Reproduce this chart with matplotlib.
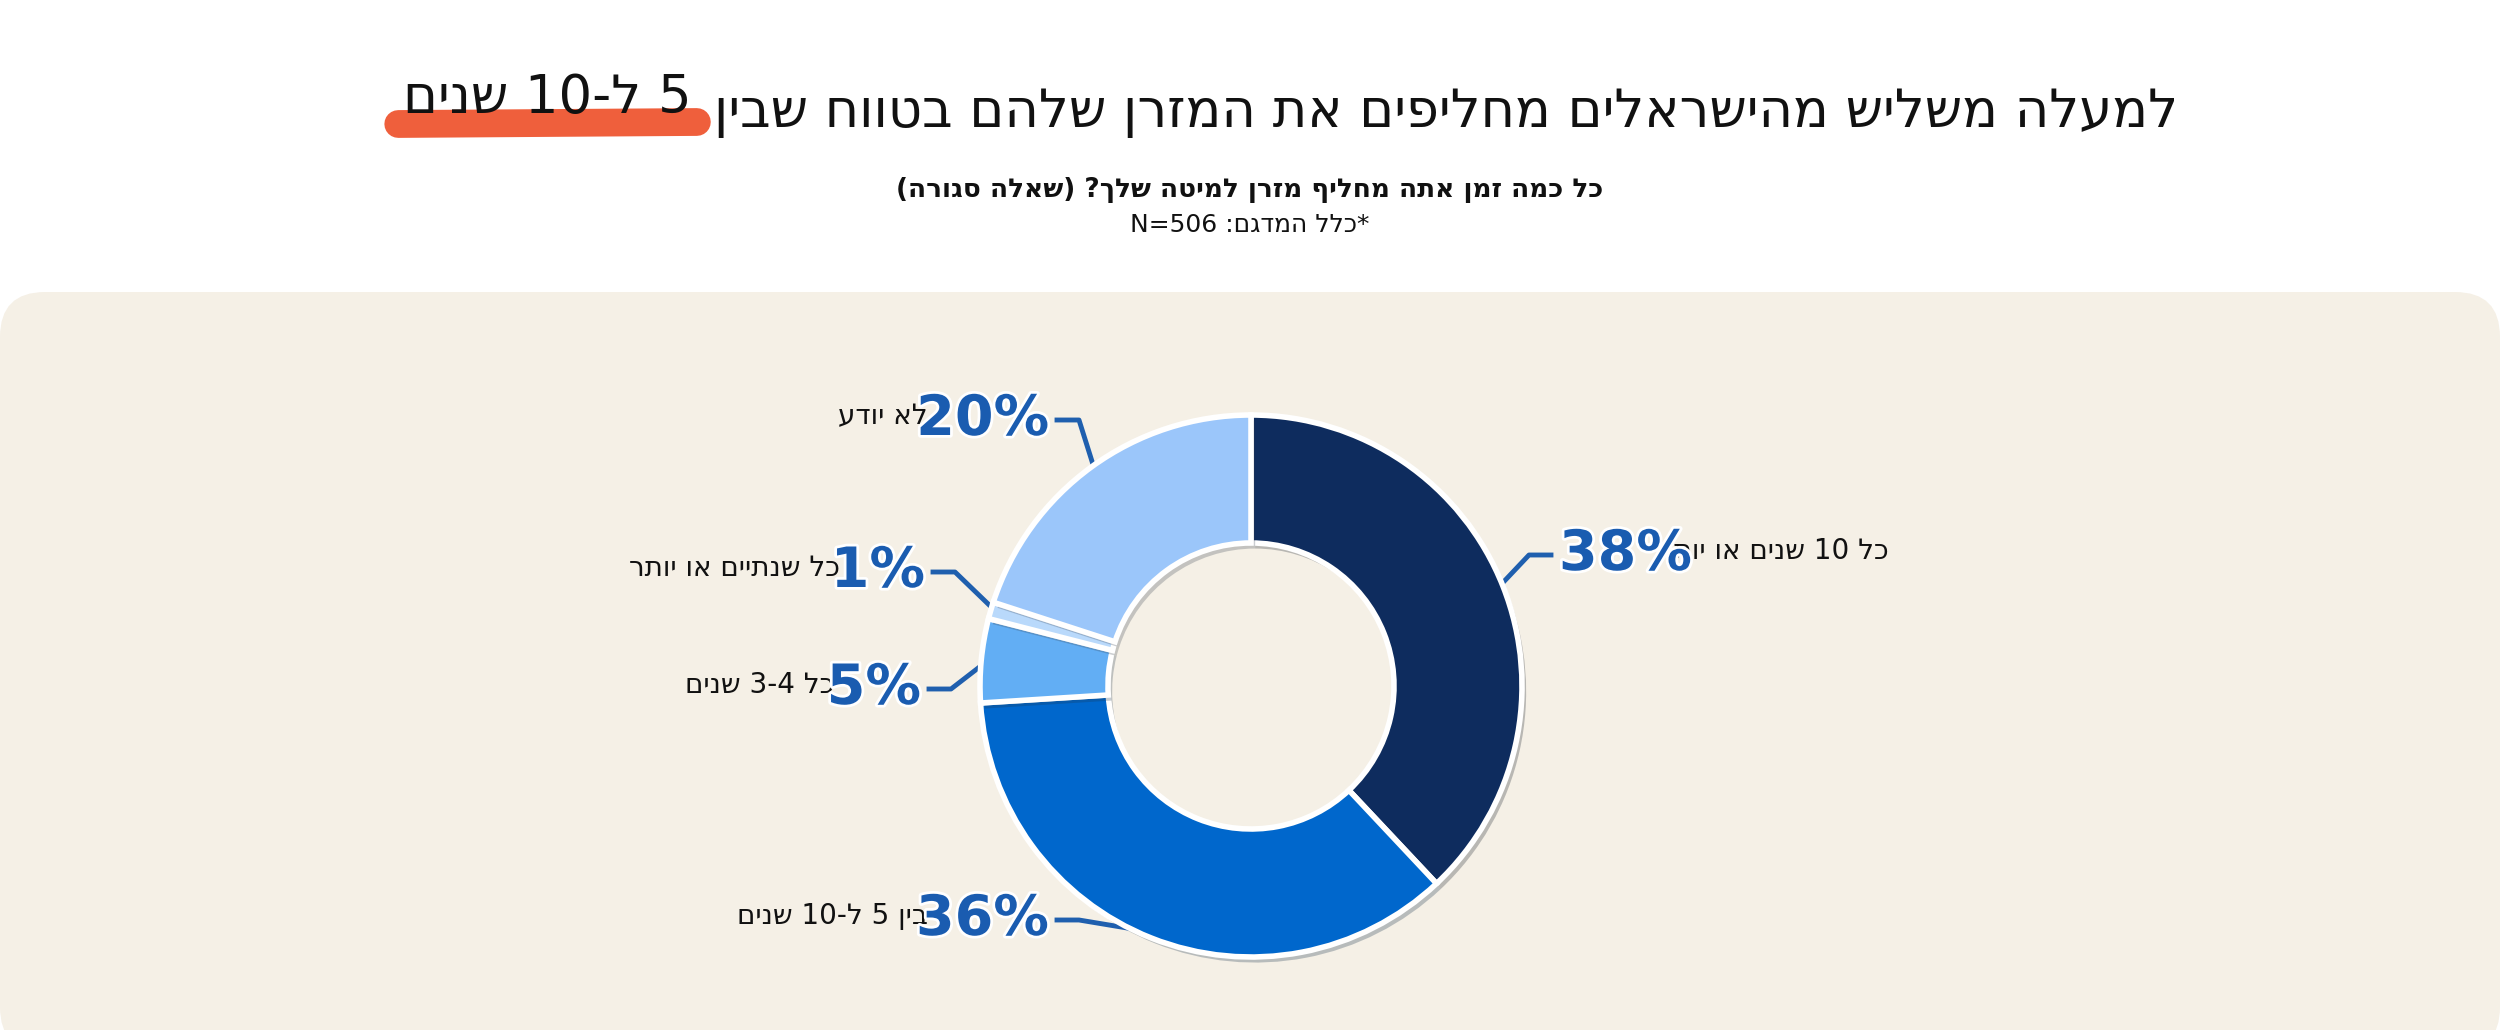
import re
import numpy as np
import matplotlib
matplotlib.use("Agg")
import matplotlib.pyplot as plt
from matplotlib.patches import FancyBboxPatch
import matplotlib.patheffects as pe

# data
labels = ["כל 10 שנים או יותר", "בין 5 ל-10 שנים", "כל 3-4 שנים", "כל שנתיים או יותר", "לא יודע"]
values = [38, 36, 5, 1, 20]
colors = ["#0e2c5e", "#0067cc", "#62aef4", "#b9d9fb", "#9bc6fa"]
title_main = "למעלה משליש מהישראלים מחליפים את המזרן שלהם בטווח שבין"
title_hl = "5 ל-10 שנים"
subtitle = "כל כמה זמן אתה מחליף מזרן למיטה שלך? (שאלה סגורה)"
note = "*כלל המדגם: N=506"

HEB = re.compile("[\u0590-\u05FF]")
MIRROR = {"(": ")", ")": "("}


def vis(s):
    # crude RTL -> visual order
    out = []
    for tok in s.split(" ")[::-1]:
        if HEB.search(tok) or any(c in tok for c in "()?*:"):
            r = tok[::-1]
            r = re.sub(r"[0-9]+", lambda m: m.group(0)[::-1], r)
            r = "".join(MIRROR.get(c, c) for c in r)
            out.append(r)
        else:
            out.append(tok)
    return " ".join(out)


W, H = 2500, 1030
fig = plt.figure(figsize=(25, 10.3), dpi=100)
ax = fig.add_axes([0, 0, 1, 1])
ax.set_xlim(0, W)
ax.set_ylim(H, 0)
ax.axis("off")

ax.add_patch(FancyBboxPatch((0, 292), W, 760, boxstyle="round,pad=0,rounding_size=45",
                            fc="#f5f0e6", ec="none", zorder=0))

# title
tx = 2178
t1 = ax.text(tx, 112, vis(title_main), ha="right", va="center", fontsize=38, color="#111111")
fig.canvas.draw()
r = fig.canvas.get_renderer()
bb = t1.get_window_extent(r)
hl_right = bb.x0 - 22
t2 = ax.text(hl_right, 98, vis(title_hl), ha="right", va="center", fontsize=38, color="#111111", zorder=3)
bb2 = t2.get_window_extent(r)
ax.plot([bb2.x0 - 5, bb2.x1 + 5], [124, 122], color="#ef5f3c", lw=20, solid_capstyle="round", zorder=2)

ax.text(1250, 190, vis(subtitle), ha="center", va="center", fontsize=19, color="#111111", fontweight="bold")
ax.text(1250, 225, vis(note), ha="center", va="center", fontsize=18, color="#111111")

# donut
cx, cy, R, r_in = 1251, 686, 271, 143
pax = fig.add_axes([(cx - 300) / W, (H - cy - 300) / H, 600 / W, 600 / H])
wedges, _ = pax.pie(values, colors=colors, startangle=90, counterclock=False, radius=R,
                    wedgeprops=dict(width=R - r_in, edgecolor="white", linewidth=4))
pax.set_xlim(-300, 300)
pax.set_ylim(-300, 300)
pax.set_aspect("equal")
pax.axis("off")
for w in wedges:
    w.set_path_effects([pe.SimplePatchShadow(offset=(3, -4), alpha=0.25), pe.Normal()])

# labels: percent text inner-edge position (pixel) and category text right edge
pct_pos = [(1559, 555), (1049, 920), (921, 689), (925, 572), (1049, 420)]
lab_right = [1889, 928, 834, 840, 928]
for i, w in enumerate(wedges):
    ang = np.deg2rad((w.theta1 + w.theta2) / 2)
    ax_ = cx + (R - 6) * np.cos(ang)
    ay_ = cy - (R - 6) * np.sin(ang)
    px, py = pct_pos[i]
    left_side = px < cx
    ex = px + (8 if left_side else -8)
    mx = px + (30 if left_side else -30)
    ax.plot([ax_, mx, ex], [ay_, py, py], color="#1f5fae", lw=3.5, zorder=5)
    ax.text(px, py, f"{values[i]}%", ha="right" if left_side else "left", va="center",
            fontsize=40, fontweight="bold", color="#1a5cb0", zorder=6,
            path_effects=[pe.withStroke(linewidth=4, foreground="white")])
    ax.text(lab_right[i], py - 4, vis(labels[i]), ha="right", va="center", fontsize=20, color="#111111")

fig.savefig("out.png", dpi=100, facecolor="white")
